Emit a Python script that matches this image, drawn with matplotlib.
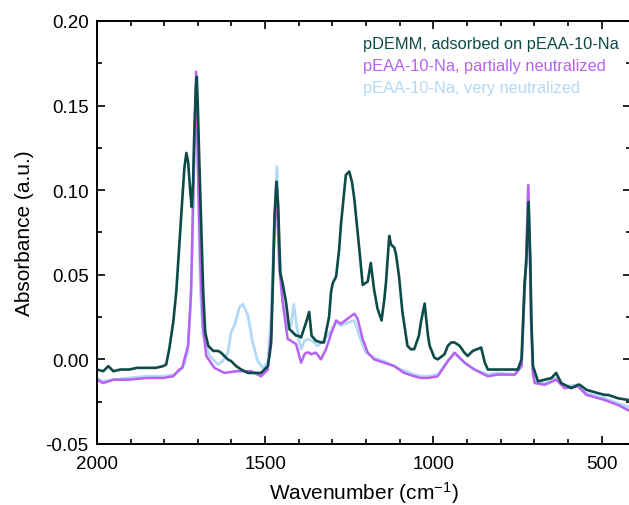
import matplotlib
matplotlib.use("Agg")
import matplotlib.pyplot as plt
from matplotlib.ticker import MultipleLocator

plt.rcParams['font.family'] = ['Liberation Sans', 'DejaVu Sans']
plt.rcParams['mathtext.fontset'] = 'custom'
plt.rcParams['mathtext.rm'] = 'Liberation Sans'
plt.rcParams['mathtext.it'] = 'Liberation Sans:italic'

# pDEMM adsorbed on pEAA-10-Na (dark teal)
wn_dark = [2000, 1981, 1966, 1951, 1930, 1904, 1880, 1853, 1825, 1803, 1794, 1785, 1773, 1764, 1755,
           1746, 1740, 1734, 1729, 1722, 1718, 1714, 1711, 1706, 1703, 1700, 1696, 1690, 1684, 1678,
           1669, 1654, 1640, 1631, 1611, 1601, 1586, 1571, 1551, 1541, 1522, 1512, 1502, 1492, 1487,
           1482, 1477, 1472, 1466, 1461, 1455, 1448, 1438, 1428, 1418, 1408, 1403, 1393, 1383, 1378,
           1369, 1362, 1349, 1334, 1325, 1319, 1310, 1304, 1299, 1289, 1280, 1275, 1260, 1250, 1242,
           1235, 1220, 1210, 1195, 1186, 1176, 1166, 1154, 1146, 1141, 1131, 1126, 1116, 1111, 1102,
           1092, 1077, 1067, 1057, 1043, 1037, 1026, 1016, 1011, 997, 987, 967, 957, 947, 937,
           922, 908, 898, 883, 870, 858, 847, 838, 830, 809, 788, 768, 749, 738, 729,
           724, 717, 712, 709, 704, 689, 669, 649, 635, 620, 590, 570, 565, 545, 510,
           491, 481, 451, 421, 413]
ab_dark = [-0.006, -0.007, -0.004, -0.007, -0.006, -0.006, -0.005, -0.005, -0.005, -0.004, -0.003, 0.006, 0.022, 0.040, 0.068,
           0.095, 0.113, 0.122, 0.117, 0.098, 0.090, 0.105, 0.130, 0.160, 0.167, 0.150, 0.120, 0.079, 0.040, 0.016,
           0.008, 0.005, 0.005, 0.004, 0.000, -0.001, -0.004, -0.006, -0.008, -0.008, -0.008, -0.008, -0.006, -0.004, 0.002,
           0.010, 0.045, 0.085, 0.105, 0.090, 0.051, 0.045, 0.034, 0.018, 0.016, 0.014, 0.014, 0.013, 0.019, 0.022,
           0.028, 0.014, 0.011, 0.010, 0.010, 0.016, 0.025, 0.040, 0.045, 0.049, 0.065, 0.079, 0.109, 0.111, 0.105,
           0.095, 0.065, 0.044, 0.046, 0.057, 0.041, 0.030, 0.023, 0.035, 0.045, 0.073, 0.068, 0.066, 0.062, 0.049,
           0.028, 0.008, 0.006, 0.006, 0.014, 0.022, 0.033, 0.014, 0.008, 0.001, 0.000, 0.003, 0.008, 0.010, 0.010,
           0.008, 0.004, 0.002, 0.005, 0.006, 0.007, -0.002, -0.006, -0.006, -0.006, -0.006, -0.006, -0.006, 0.000, 0.045,
           0.057, 0.093, 0.060, 0.025, -0.004, -0.013, -0.012, -0.011, -0.008, -0.014, -0.017, -0.015, -0.015, -0.018, -0.020,
           -0.021, -0.021, -0.023, -0.024, -0.025]

# pEAA-10-Na, partially neutralized (purple)
wn_part = [2000, 1981, 1966, 1951, 1904, 1853, 1803, 1773, 1755, 1746, 1740, 1729, 1720, 1715, 1710,
           1705, 1700, 1693, 1685, 1675, 1651, 1621, 1586, 1541, 1512, 1492, 1482, 1474, 1467, 1458,
           1448, 1433, 1423, 1408, 1393, 1383, 1378, 1369, 1364, 1349, 1334, 1319, 1304, 1289, 1275,
           1255, 1235, 1225, 1210, 1195, 1176, 1146, 1116, 1087, 1057, 1037, 1016, 987, 957, 937,
           907, 878, 838, 809, 758, 738, 729, 724, 718, 713, 709, 704, 699, 669, 635,
           610, 570, 545, 491, 451, 421, 413]
ab_part = [-0.012, -0.014, -0.013, -0.012, -0.012, -0.011, -0.011, -0.010, -0.006, -0.005, 0.000, 0.008, 0.040, 0.085, 0.128,
           0.170, 0.118, 0.059, 0.020, 0.002, -0.005, -0.008, -0.007, -0.007, -0.010, -0.006, 0.016, 0.065, 0.105, 0.055,
           0.034, 0.012, 0.011, 0.009, -0.002, 0.003, 0.004, 0.004, 0.003, 0.004, 0.000, 0.006, 0.015, 0.023, 0.021,
           0.024, 0.027, 0.024, 0.012, 0.004, 0.000, -0.002, -0.004, -0.008, -0.010, -0.011, -0.011, -0.010, -0.001, 0.004,
           -0.002, -0.006, -0.010, -0.009, -0.009, -0.004, 0.040, 0.060, 0.103, 0.060, 0.020, -0.008, -0.014, -0.015, -0.012,
           -0.017, -0.016, -0.021, -0.024, -0.027, -0.030, -0.031]

# pEAA-10-Na, very neutralized (light blue)
wn_very = [2000, 1981, 1951, 1904, 1853, 1803, 1773, 1755, 1740, 1730, 1722, 1716, 1712, 1708, 1705,
           1701, 1697, 1692, 1685, 1675, 1665, 1655, 1640, 1626, 1611, 1601, 1591, 1576, 1566, 1551,
           1537, 1522, 1507, 1492, 1482, 1474, 1465, 1458, 1448, 1433, 1423, 1415, 1408, 1398, 1393,
           1383, 1369, 1354, 1344, 1334, 1319, 1304, 1289, 1275, 1250, 1235, 1220, 1201, 1176, 1136,
           1097, 1057, 1037, 1016, 987, 957, 937, 907, 878, 838, 809, 758, 738, 729, 724,
           718, 713, 709, 704, 699, 669, 635, 610, 570, 545, 491, 451, 421, 413]
ab_very = [-0.011, -0.013, -0.012, -0.011, -0.010, -0.010, -0.009, -0.007, -0.003, 0.005, 0.030, 0.070, 0.110, 0.145, 0.163,
           0.130, 0.080, 0.040, 0.015, 0.008, 0.002, 0.000, -0.003, -0.001, 0.004, 0.016, 0.020, 0.031, 0.0325, 0.026,
           0.010, -0.001, -0.005, -0.002, 0.026, 0.075, 0.114, 0.065, 0.035, 0.018, 0.020, 0.0325, 0.022, 0.010, 0.006,
           0.011, 0.012, 0.010, 0.008, 0.010, 0.013, 0.017, 0.022, 0.020, 0.022, 0.023, 0.014, 0.004, 0.001, -0.002,
           -0.006, -0.009, -0.010, -0.010, -0.009, -0.001, 0.0035, -0.002, -0.006, -0.009, -0.008, -0.009, -0.004, 0.040, 0.060,
           0.102, 0.060, 0.020, -0.008, -0.013, -0.014, -0.011, -0.016, -0.015, -0.020, -0.023, -0.026, -0.028, -0.028]

labels = ['pDEMM, adsorbed on pEAA-10-Na',
          'pEAA-10-Na, partially neutralized',
          'pEAA-10-Na, very neutralized']
c_dark = '#0c4b47'
c_part = '#b862f2'
c_very = '#b3d9f7'

fig = plt.figure(figsize=(6.29, 5.06), dpi=100)
ax = fig.add_axes([0.154, 0.1206, 0.849, 0.836])

l3, = ax.plot(wn_very, ab_very, color=c_very, lw=2.0)
l2, = ax.plot(wn_part, ab_part, color=c_part, lw=1.8)
l1, = ax.plot(wn_dark, ab_dark, color=c_dark, lw=1.9)

ax.set_xlim(2000, 413)
ax.set_ylim(-0.05, 0.20)
ax.xaxis.set_major_locator(MultipleLocator(500))
ax.xaxis.set_minor_locator(MultipleLocator(100))
ax.yaxis.set_major_locator(MultipleLocator(0.05))
ax.yaxis.set_minor_locator(MultipleLocator(0.025))
ax.yaxis.set_major_formatter(plt.FormatStrFormatter('%.2f'))
ax.tick_params(which='both', direction='in', top=True, right=True, labelsize=13.5, width=1.2)
ax.tick_params(which='major', length=6)
ax.tick_params(which='minor', length=3.5)
ax.tick_params(axis='x', pad=8)
ax.tick_params(axis='y', pad=6)
for s in ax.spines.values():
    s.set_linewidth(1.4)

ax.set_xlabel('Wavenumber (cm$^{-1}$)', fontsize=15, labelpad=5)
ax.set_ylabel('Absorbance (a.u.)', fontsize=15, labelpad=8)

leg = ax.legend([l1, l2, l3], labels, loc='upper left', bbox_to_anchor=(0.47, 1.0),
                frameon=False, handlelength=0, handletextpad=0, labelcolor='linecolor',
                fontsize=11.8, labelspacing=0.45)
for h in leg.legend_handles:
    h.set_visible(False)

fig.savefig('out.png', dpi=100)
